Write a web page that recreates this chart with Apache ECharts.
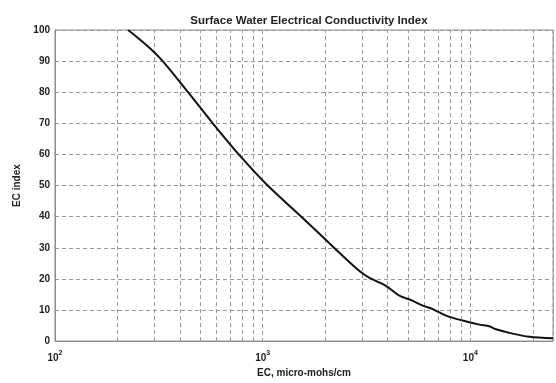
<!DOCTYPE html>
<html>
<head>
<meta charset="utf-8">
<script src="https://cdn.jsdelivr.net/npm/echarts@6/dist/echarts.min.js"></script>
<style>
  html, body { margin: 0; padding: 0; background: #fff; }
  #main { width: 556px; height: 383px; }
</style>
</head>
<body>
<div id="main"></div>
<script>
// EC (micro-mohs/cm) vs EC index
const ecValues = [225, 277, 330, 437, 575, 767, 1057, 1535, 2175, 2925, 3270, 3935, 4560, 5260, 5900, 6590, 7640, 9180, 11040, 12330, 13300, 15960, 19240, 25000];
const ecIndex = [100, 95, 90, 80, 70, 60, 50, 40, 30.4, 22.5, 20.3, 17.7, 14.6, 13, 11.4, 10.3, 8.2, 6.6, 5.3, 4.8, 3.8, 2.4, 1.4, 0.9];
// minor log grid lines
const minorTicks = [200, 300, 400, 500, 600, 700, 800, 900, 2000, 3000, 4000, 5000, 6000, 7000, 8000, 9000, 20000];

const font = 'Liberation Sans, Arial, sans-serif';
const gridDash = { color: '#9a9a9a', width: 1, type: [4, 3] };

const chart = echarts.init(document.getElementById('main'));
chart.setOption({
  animation: false,
  title: {
    text: 'Surface Water Electrical Conductivity Index',
    left: 304, top: 10, textAlign: 'center',
    textStyle: { fontFamily: font, fontSize: 11.5, fontWeight: 'bold', color: '#222' }
  },
  grid: {
    left: 55, right: 3, top: 30, bottom: 36,
    show: true, borderColor: '#8c8c8c', borderWidth: 1
  },
  xAxis: {
    type: 'log', logBase: 10, min: 100, max: 25000,
    name: 'EC, micro-mohs/cm', nameLocation: 'middle', nameGap: 26,
    nameTextStyle: { fontFamily: font, fontSize: 10, fontWeight: 'bold', color: '#222' },
    axisLine: { show: true, lineStyle: { color: '#8c8c8c' } },
    axisTick: { show: false },
    splitLine: { show: true, lineStyle: gridDash },
    axisLabel: {
      margin: 8, showMaxLabel: false,
      formatter(val) {
        const e = Math.round(Math.log10(val));
        return '{b|10}{s|' + e + '}';
      },
      rich: {
        b: { fontFamily: font, fontSize: 10, fontWeight: 'bold', color: '#222', lineHeight: 14, verticalAlign: 'bottom' },
        s: { fontFamily: font, fontSize: 7, fontWeight: 'bold', color: '#222', lineHeight: 14, verticalAlign: 'top' }
      }
    }
  },
  yAxis: {
    type: 'value', min: 0, max: 100, interval: 10,
    name: 'EC index', nameLocation: 'middle', nameGap: 30, nameRotate: 90,
    nameTextStyle: { fontFamily: font, fontSize: 10, fontWeight: 'bold', color: '#222' },
    axisLine: { show: true, lineStyle: { color: '#8c8c8c' } },
    axisTick: { show: false },
    splitLine: { show: true, lineStyle: gridDash },
    axisLabel: { fontFamily: font, fontSize: 10, fontWeight: 'bold', color: '#222', margin: 5 }
  },
  series: [{
    type: 'line',
    data: ecValues.map((v, i) => [v, ecIndex[i]]),
    smooth: 0.3,
    showSymbol: false,
    lineStyle: { color: '#111', width: 2 },
    z: 5,
    markLine: {
      silent: true,
      symbol: ['none', 'none'],
      label: { show: false },
      lineStyle: gridDash,
      data: minorTicks.map(v => ({ xAxis: v }))
    }
  }]
});
</script>
</body>
</html>
